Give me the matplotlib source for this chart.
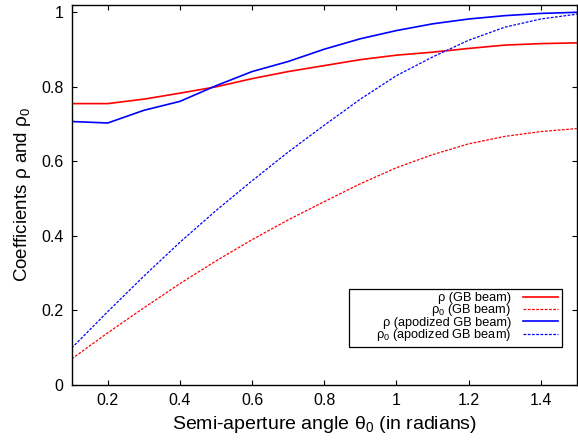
import matplotlib
matplotlib.use("Agg")
import matplotlib.pyplot as plt
from matplotlib.patches import Rectangle
from matplotlib.transforms import IdentityTransform

# semi-aperture angle (rad)
theta0 = [0.1, 0.2, 0.3, 0.4, 0.5, 0.6, 0.7, 0.8, 0.9, 1.0, 1.1, 1.2, 1.3, 1.4, 1.5]

rho_gb = [0.755, 0.755, 0.767, 0.783, 0.800, 0.822, 0.841, 0.857, 0.873, 0.885,
          0.893, 0.903, 0.912, 0.916, 0.918]
rho0_gb = [0.070, 0.140, 0.207, 0.272, 0.333, 0.390, 0.443, 0.492, 0.540, 0.583,
           0.618, 0.647, 0.667, 0.680, 0.688]
rho_apo = [0.707, 0.703, 0.737, 0.761, 0.803, 0.841, 0.868, 0.901, 0.929, 0.951,
           0.969, 0.982, 0.991, 0.997, 1.000]
rho0_apo = [0.099, 0.197, 0.292, 0.383, 0.468, 0.548, 0.625, 0.697, 0.767, 0.830,
            0.880, 0.925, 0.960, 0.982, 0.995]

labels = ["ρ (GB beam)", "ρ$_0$ (GB beam)", "ρ (apodized GB beam)", "ρ$_0$ (apodized GB beam)"]

plt.rcParams.update({
    "font.family": ["Liberation Sans", "DejaVu Sans"],
    "mathtext.default": "regular",
    "xtick.direction": "in",
    "ytick.direction": "in",
    "xtick.top": True,
    "ytick.right": True,
})

fig = plt.figure(figsize=(5.78, 4.41), dpi=100)
ax = fig.add_axes([0.124, 0.127, 0.874, 0.862])

dash = (0, (2.2, 1.2))
ax.plot(theta0, rho_gb, color="#ff0000", lw=1.2)
ax.plot(theta0, rho0_gb, color="#ff0000", lw=0.9, ls=dash)
ax.plot(theta0, rho_apo, color="#0000ff", lw=1.2)
ax.plot(theta0, rho0_apo, color="#0000ff", lw=0.9, ls=dash)

ax.set_xlim(0.1, 1.5)
ax.set_ylim(0, 1.02)
ax.set_xticks([0.2, 0.4, 0.6, 0.8, 1.0, 1.2, 1.4])
ax.set_xticklabels(["0.2", "0.4", "0.6", "0.8", "1", "1.2", "1.4"])
ax.set_yticks([0, 0.2, 0.4, 0.6, 0.8, 1.0])
ax.set_yticklabels(["0", "0.2", "0.4", "0.6", "0.8", "1"])
ax.tick_params(labelsize=11.5, length=3.5, width=0.8, pad=6)
for s in ax.spines.values():
    s.set_linewidth(1.0)

ax.set_xlabel("Semi-aperture angle θ$_0$ (in radians)", fontsize=14, labelpad=4)
ax.set_ylabel("Coefficients ρ and ρ$_0$", fontsize=13.5, labelpad=6)

leg = ax.legend(ax.get_lines(), labels, loc="lower right",
                bbox_to_anchor=(0.970, 0.101), borderaxespad=0,
                markerfirst=False, fontsize=9.2, labelspacing=-0.12, handlelength=2.8,
                handletextpad=0.9, borderpad=0.25, frameon=False)

# gnuplot-style key: labels right-aligned against the line samples, box with
# a wider left margin
fig.canvas.draw()
renderer = fig.canvas.get_renderer()
texts = leg.get_texts()
col_right = max(t.get_window_extent(renderer).x1 for t in texts)
for t, lab in zip(texts, labels):
    x0, y0 = t.get_transform().transform(t.get_position())
    fig.text(col_right, y0, lab, ha="right", va="baseline",
             fontsize=9.2, transform=IdentityTransform())
    t.set_visible(False)

bb = leg.get_window_extent(renderer)
extra = 24
fig.patches.append(Rectangle((bb.x0 - extra, bb.y0), bb.width + extra, bb.height,
                             fill=False, edgecolor="black", linewidth=0.9,
                             transform=IdentityTransform(), figure=fig))

fig.savefig("out.png", dpi=100)
